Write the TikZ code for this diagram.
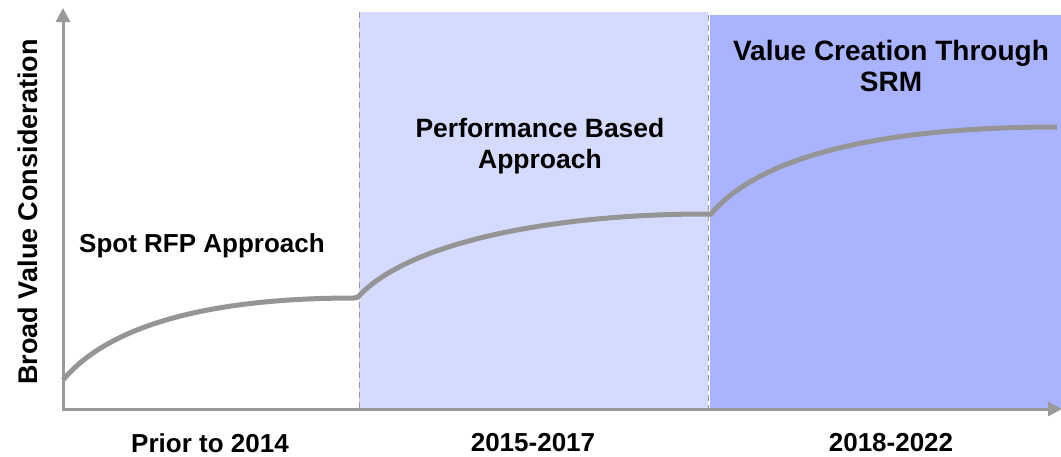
\documentclass[tikz,border=0pt]{standalone}
\usepackage{fontspec}
\setmainfont{Liberation Sans}
\usetikzlibrary{arrows.meta}
\definecolor{bandA}{HTML}{D5DBFF}
\definecolor{bandB}{HTML}{AAB4FE}
\definecolor{axisgray}{HTML}{999999}
\definecolor{curvegray}{HTML}{959595}
\tikzset{
  lbl/.style={font=\fontsize{26}{31}\selectfont\bfseries, align=center, inner sep=0pt},
  biglbl/.style={font=\fontsize{28}{31}\selectfont\bfseries, align=center, inner sep=0pt},
  axisline/.style={draw=axisgray, line width=3pt, -{Triangle[length=14pt,width=14pt]}},
  curveline/.style={draw=curvegray, line width=5pt},
  divider/.style={draw=axisgray, line width=1pt, dash pattern=on 6pt off 4pt},
}
\begin{document}
\begin{tikzpicture}[x=1pt,y=-1pt]
\useasboundingbox (0,0) rectangle (1061,456);
% bands
\fill[bandA] (359,12) rectangle (708,408);
\fill[bandB] (710,15) rectangle (1061,408);
\draw[divider] (359,12) -- (359,408);
\draw[divider] (708,15) -- (708,408);
% axes
\coordinate (o) at (63,409);
\coordinate (ytop) at (63,8);
\coordinate (xend) at (1062,409);
\draw[axisline] (o) -- (ytop);
\draw[axisline] (62,409) -- (xend);
% curves
\coordinate (c1s) at (63,380);
\coordinate (c1e) at (354,298);
\coordinate (c2s) at (358,297);
\coordinate (c2e) at (706,214);
\coordinate (c3s) at (711,214);
\coordinate (c3e) at (1057,127);
\draw[curveline] (c1s) .. controls (115,318) and (230,298) .. (c1e) -- (c2s)
  .. controls (410,240) and (560,214) .. (c2e) -- (c3s)
  .. controls (765,150) and (900,127) .. (c3e);
% labels
\node[lbl] (l1) at (202,246) {Spot RFP Approach};
\node[lbl, font=\fontsize{26.5}{31}\selectfont\bfseries] (l2) at (540,146) {Performance Based\\Approach};
\node[biglbl] (l3) at (891,66) {Value Creation Through\\SRM};
\node[lbl] (t1) at (210,443) {Prior to 2014};
\node[lbl] (t2) at (533,443) {2015-2017};
\node[lbl] (t3) at (891,443) {2018-2022};
\node[lbl, rotate=90, font=\fontsize{27}{31}\selectfont\bfseries] (yl) at (28,212) {Broad Value Consideration};
\end{tikzpicture}
\end{document}
